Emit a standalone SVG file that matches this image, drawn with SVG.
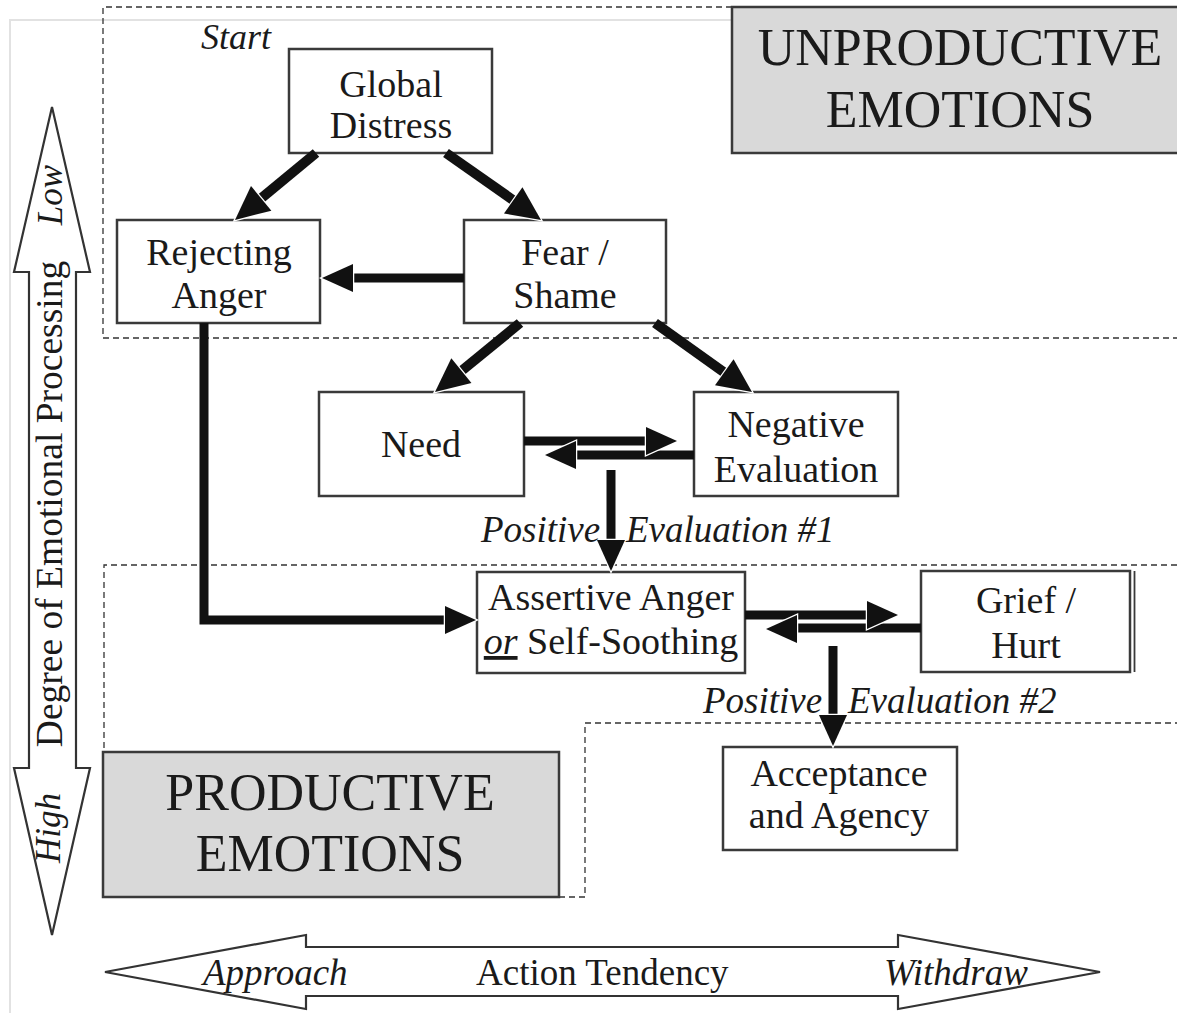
<svg xmlns="http://www.w3.org/2000/svg" xmlns:xlink="http://www.w3.org/1999/xlink" width="1177" height="1013" viewBox="0 0 1177 1013">
<style>
text{font-family:"Liberation Serif","Times New Roman",serif;fill:#1a1a1a}
.n{font-size:38px;text-anchor:middle}
.big{font-size:52px;text-anchor:middle}
.it{font-style:italic}
.box{fill:#fff;stroke:#3a3a3a;stroke-width:2.5}
.gray{fill:#d9d9d9;stroke:#3a3a3a;stroke-width:2.5}
.dash{fill:none;stroke:#333;stroke-width:1.3;stroke-dasharray:6 4}
.conn{fill:none;stroke:#111;stroke-width:9}
.head{fill:#111;stroke:#fff;stroke-width:2.5;paint-order:stroke}
.outline{fill:#fff;stroke:#333;stroke-width:2.2;stroke-linejoin:miter}
</style>
<defs>
<path id="ah" d="M0,0 L-31,-14 L-31,14 Z"/>
<path id="ahd" d="M0,0 L-34,-16 L-34,16 Z"/>
</defs>
<rect width="1177" height="1013" fill="#fff"/>
<path d="M10,1013 V20 H1177" fill="none" stroke="#e2e2e2" stroke-width="2"/>

<g id="regions">
<path class="dash" d="M732,7 H103 V338 H1177"/>
<path class="dash" d="M1177,565 H104 V752"/>
<path class="dash" d="M559,897 H585 V723 H1177"/>
</g>

<g id="unproductive">
<rect class="gray" x="732" y="7" width="450" height="146"/>
<text class="big" x="960" y="65">UNPRODUCTIVE</text>
<text class="big" x="960" y="127">EMOTIONS</text>
</g>

<g id="productive">
<rect class="gray" x="103" y="752" width="456" height="145"/>
<text class="big" x="330" y="810">PRODUCTIVE</text>
<text class="big" x="330" y="871">EMOTIONS</text>
</g>

<g id="axis-processing">
<polygon class="outline" points="52,107 90,272 76,272 76,768 90,768 52,935 14,768 29,768 29,272 14,272"/>
<text transform="translate(62,504) rotate(-90)" style="font-size:37.5px;text-anchor:middle">Degree of Emotional Processing</text>
<text class="it" transform="translate(62,195) rotate(-90)" style="font-size:35px;text-anchor:middle">Low</text>
<text class="it" transform="translate(60,828) rotate(-90)" style="font-size:35px;text-anchor:middle">High</text>
</g>

<g id="axis-action">
<polygon class="outline" points="105,972 306,935 306,947 898,947 898,935 1100,972 898,1009 898,996 306,996 306,1009"/>
<text class="it" x="203" y="985" style="font-size:37px">Approach</text>
<text x="476" y="985" style="font-size:37px">Action Tendency</text>
<text class="it" x="884" y="985" style="font-size:37px">Withdraw</text>
</g>

<text id="start-label" class="it" x="201" y="49" style="font-size:36px">Start</text>

<g id="global-distress">
<rect class="box" x="289" y="49" width="203" height="104"/>
<text class="n" x="391" y="97">Global</text>
<text class="n" x="391" y="138">Distress</text>
</g>

<g id="rejecting-anger">
<rect class="box" x="117" y="220" width="203" height="103"/>
<text class="n" x="219" y="265">Rejecting</text>
<text class="n" x="219" y="308">Anger</text>
</g>

<g id="fear-shame">
<rect class="box" x="464" y="220" width="202" height="103"/>
<text class="n" x="565" y="265">Fear /</text>
<text class="n" x="565" y="308">Shame</text>
</g>

<g id="need">
<rect class="box" x="319" y="392" width="205" height="104"/>
<text class="n" x="421" y="457">Need</text>
</g>

<g id="negative-evaluation">
<rect class="box" x="694" y="392" width="204" height="104"/>
<text class="n" x="796" y="437">Negative</text>
<text class="n" x="796" y="482">Evaluation</text>
</g>

<g id="assertive-anger">
<rect class="box" x="477" y="572" width="268" height="101"/>
<text class="n" x="611" y="610">Assertive Anger</text>
<text class="n" x="611" y="654"><tspan class="it" text-decoration="underline">or</tspan> Self-Soothing</text>
</g>

<g id="grief-hurt">
<rect class="box" x="921" y="571" width="209" height="101"/>
<line x1="1134.5" y1="571" x2="1134.5" y2="672" stroke="#3a3a3a" stroke-width="1.8"/>
<text class="n" x="1026" y="613">Grief /</text>
<text class="n" x="1026" y="658">Hurt</text>
</g>

<g id="acceptance-agency">
<rect class="box" x="723" y="747" width="234" height="103"/>
<text class="n" x="839" y="786">Acceptance</text>
<text class="n" x="839" y="828">and Agency</text>
</g>

<g id="connectors">
<line class="conn" style="stroke-width:10" x1="316" y1="153" x2="252" y2="206"/>
<line class="conn" style="stroke-width:10" x1="446" y1="153" x2="520" y2="205"/>
<line class="conn" x1="464" y1="278" x2="346" y2="278"/>
<line class="conn" style="stroke-width:10" x1="520" y1="323" x2="454" y2="377"/>
<line class="conn" style="stroke-width:10" x1="655" y1="323" x2="732" y2="378"/>
<path class="conn" d="M204,323 V620 H450"/>
<line class="conn" x1="524" y1="441" x2="652" y2="441"/>
<line class="conn" x1="694" y1="455" x2="570" y2="455"/>
<line class="conn" x1="611" y1="470" x2="611" y2="548"/>
<line class="conn" x1="745" y1="615" x2="874" y2="615"/>
<line class="conn" x1="921" y1="628" x2="790" y2="628"/>
<line class="conn" x1="833" y1="646" x2="833" y2="722"/>
<use xlink:href="#ahd" class="head" transform="translate(235,220) rotate(140.4)"/>
<use xlink:href="#ahd" class="head" transform="translate(541,220) rotate(35.2)"/>
<use xlink:href="#ah" class="head" transform="translate(322,278) rotate(180)"/>
<use xlink:href="#ahd" class="head" transform="translate(435,392) rotate(140.9)"/>
<use xlink:href="#ahd" class="head" transform="translate(752,392) rotate(35.4)"/>
<use xlink:href="#ah" class="head" transform="translate(476,620)"/>
<use xlink:href="#ah" class="head" transform="translate(677,441)"/>
<use xlink:href="#ah" class="head" transform="translate(545,455) rotate(180)"/>
<use xlink:href="#ah" class="head" transform="translate(611,571) rotate(90)"/>
<use xlink:href="#ah" class="head" transform="translate(898,615)"/>
<use xlink:href="#ah" class="head" transform="translate(766,629) rotate(180)"/>
<use xlink:href="#ah" class="head" transform="translate(833,746) rotate(90)"/>
<text class="it" x="481" y="542" style="font-size:37px">Positive <tspan x="626">Evaluation #1</tspan></text>
<text class="it" x="703" y="713" style="font-size:37px">Positive <tspan x="848">Evaluation #2</tspan></text>
</g>
</svg>
